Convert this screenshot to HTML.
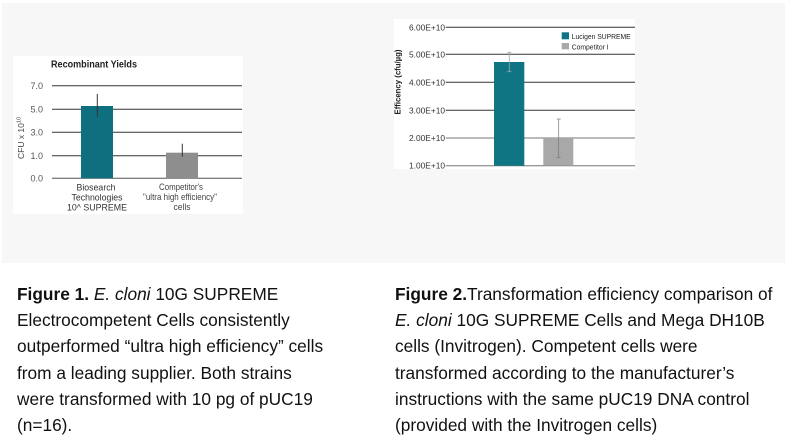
<!DOCTYPE html>
<html>
<head>
<meta charset="utf-8">
<style>
  html,body{margin:0;padding:0;background:#fff;}
  body{width:785px;height:447px;position:relative;overflow:hidden;font-family:"Liberation Sans",Arial,sans-serif;}
  svg{position:absolute;left:0;top:0;}
  .cap{position:absolute;top:280.9px;font-size:17.3px;line-height:26.2px;color:#111;white-space:nowrap;}
  .cap b{font-weight:bold;}
</style>
</head>
<body>
<svg width="785" height="447" viewBox="0 0 785 447" xmlns="http://www.w3.org/2000/svg" font-family="Liberation Sans, Arial, sans-serif">
  <rect x="2" y="3" width="783" height="260" fill="#f7f7f7"/>
  <!-- Left chart -->
  <rect x="13" y="56" width="230" height="158" fill="#ffffff"/>
  <text x="51" y="67.5" font-size="10" font-weight="bold" fill="#222" textLength="86" lengthAdjust="spacingAndGlyphs">Recombinant Yields</text>
  <g stroke="#333" stroke-width="1">
    <line x1="52" y1="85.7" x2="242" y2="85.7"/>
    <line x1="52" y1="109.3" x2="242" y2="109.3"/>
    <line x1="52" y1="132.3" x2="242" y2="132.3"/>
    <line x1="52" y1="155.7" x2="242" y2="155.7"/>
    <line x1="52" y1="178.3" x2="242" y2="178.3" stroke="#555"/>
  </g>
  <g font-size="9" fill="#555" text-anchor="end">
    <text x="43" y="89">7.0</text>
    <text x="43" y="112.5">5.0</text>
    <text x="43" y="135.5">3.0</text>
    <text x="43" y="159">1.0</text>
    <text x="43" y="181.5">0.0</text>
  </g>
  <text transform="translate(24,138) rotate(-90)" font-size="8.5" fill="#444" text-anchor="middle">CFU x 10<tspan font-size="5.5" dy="-3.5">10</tspan></text>
  <rect x="81" y="106" width="32" height="72.3" fill="#0f6f7f"/>
  <line x1="97.3" y1="94" x2="97.3" y2="117" stroke="#333" stroke-width="1"/>
  <rect x="166" y="152.7" width="32" height="25.6" fill="#8e8e8e"/>
  <line x1="182.3" y1="143.7" x2="182.3" y2="156.7" stroke="#333" stroke-width="1"/>
  <g font-size="9.5" fill="#333" text-anchor="middle">
    <text x="96" y="190.3" textLength="39" lengthAdjust="spacingAndGlyphs">Biosearch</text>
    <text x="97" y="200.3" textLength="51" lengthAdjust="spacingAndGlyphs">Technologies</text>
    <text x="97" y="210.3" textLength="60" lengthAdjust="spacingAndGlyphs">10^ SUPREME</text>
  </g>
  <g font-size="9" fill="#444" text-anchor="middle">
    <text x="181" y="190" textLength="44" lengthAdjust="spacingAndGlyphs">Competitor's</text>
    <text x="180" y="200" textLength="74" lengthAdjust="spacingAndGlyphs">"ultra high efficiency"</text>
    <text x="182" y="210" textLength="17" lengthAdjust="spacingAndGlyphs">cells</text>
  </g>

  <!-- Right chart -->
  <rect x="394" y="19" width="241" height="150" fill="#ffffff"/>
  <g stroke="#333" stroke-width="1">
    <line x1="445.7" y1="27.3" x2="635" y2="27.3"/>
    <line x1="445.7" y1="54.3" x2="635" y2="54.3"/>
    <line x1="445.7" y1="82.3" x2="635" y2="82.3"/>
    <line x1="445.7" y1="110.3" x2="635" y2="110.3"/>
    <line x1="445.7" y1="138" x2="635" y2="138" stroke="#777"/>
    <line x1="445.7" y1="165.7" x2="635" y2="165.7" stroke="#777"/>
  </g>
  <g font-size="8.5" fill="#333" text-anchor="end">
    <text x="445" y="30.3" textLength="36" lengthAdjust="spacingAndGlyphs">6.00E+10</text>
    <text x="445" y="57.3" textLength="36" lengthAdjust="spacingAndGlyphs">5.00E+10</text>
    <text x="445" y="85.3" textLength="36" lengthAdjust="spacingAndGlyphs">4.00E+10</text>
    <text x="445" y="113.3" textLength="36" lengthAdjust="spacingAndGlyphs">3.00E+10</text>
    <text x="445" y="141" textLength="36" lengthAdjust="spacingAndGlyphs">2.00E+10</text>
    <text x="445" y="168.7" textLength="36" lengthAdjust="spacingAndGlyphs">1.00E+10</text>
  </g>
  <text transform="translate(400.3,82) rotate(-90)" font-size="8" font-weight="bold" fill="#222" text-anchor="middle" textLength="65" lengthAdjust="spacingAndGlyphs">Efficency (cfu/µg)</text>
  <rect x="494" y="62" width="30.3" height="103.7" fill="#0f7583"/>
  <g stroke="#9aa" stroke-width="0.8">
    <line x1="509.3" y1="52.3" x2="509.3" y2="71.7"/>
    <line x1="507.3" y1="52.3" x2="511.3" y2="52.3"/>
    <line x1="507.3" y1="71.7" x2="511.3" y2="71.7"/>
  </g>
  <rect x="543.3" y="138" width="30" height="27.7" fill="#a8a8a8"/>
  <g stroke="#777" stroke-width="0.7">
    <line x1="558.7" y1="119" x2="558.7" y2="157.7"/>
    <line x1="556.7" y1="119" x2="560.7" y2="119"/>
    <line x1="556.7" y1="157.7" x2="560.7" y2="157.7"/>
  </g>
  <rect x="561.7" y="32.3" width="7.3" height="7" fill="#0f7583"/>
  <text x="571.7" y="39" font-size="7" fill="#222" textLength="59" lengthAdjust="spacingAndGlyphs">Lucigen SUPREME</text>
  <rect x="561.7" y="43" width="7.3" height="6.3" fill="#a8a8a8"/>
  <text x="571.7" y="49.3" font-size="7" fill="#222" textLength="37" lengthAdjust="spacingAndGlyphs">Competitor I</text>
</svg>

<div class="cap" style="left:17px;"><b>Figure 1.</b> <i>E. cloni</i> 10G SUPREME<br>Electrocompetent Cells consistently<br>outperformed “ultra high efficiency” cells<br>from a leading supplier. Both strains<br>were transformed with 10 pg of pUC19<br>(n=16).</div>

<div class="cap" style="left:395px;"><b>Figure 2.</b>Transformation efficiency comparison of<br><i>E. cloni</i> 10G SUPREME Cells and Mega DH10B<br>cells (Invitrogen). Competent cells were<br>transformed according to the manufacturer’s<br>instructions with the same pUC19 DNA control<br>(provided with the Invitrogen cells)</div>
</body>
</html>
